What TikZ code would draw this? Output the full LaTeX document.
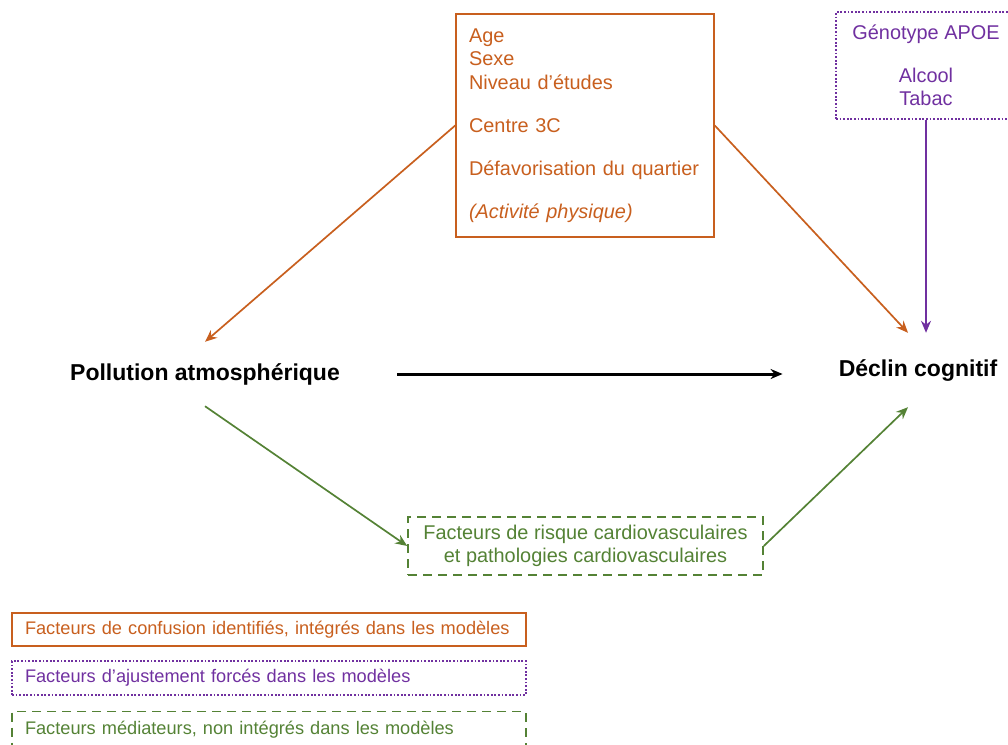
\documentclass[tikz,border=0pt]{standalone}
\usepackage{fontspec}
\setmainfont{Liberation Sans}
\usetikzlibrary{arrows.meta,calc}
\definecolor{confcol}{RGB}{200,95,30}
\definecolor{adjcol}{RGB}{112,48,160}
\definecolor{medcol}{RGB}{84,130,53}
\newcommand{\bigtxt}{\fontsize{19.9}{23.5}\selectfont}
\newcommand{\vartxt}{\fontsize{23}{27}\selectfont}
\newcommand{\legtxt}{\fontsize{18.2}{21}\selectfont}
\newcommand{\gap}{\\[19.5pt]}
\tikzset{
  mainvar/.style={font=\vartxt\bfseries, inner sep=0pt},
  confbox/.style={draw=confcol, line width=1.6pt, text=confcol, font=\bigtxt,
    align=left, text width=232pt, minimum width=258pt, inner xsep=13pt},
  adjbox/.style={draw=adjcol, line width=1.8pt, dash pattern=on 1.8pt off 1.8pt,
    text=adjcol, font=\bigtxt, align=center, minimum width=180pt},
  medbox/.style={draw=medcol, line width=1.6pt, dash pattern=on 9pt off 6pt,
    text=medcol, font=\bigtxt, align=center, minimum width=355pt, minimum height=58pt},
  legbox/.style={line width=1.6pt, font=\legtxt, align=left, text width=488pt,
    minimum width=514pt, inner xsep=13pt},
  arr/.style={line width=1.7pt, -{Stealth[length=12pt,width=10pt]}}
}

\begin{document}
\begin{tikzpicture}[x=1pt, y=-1pt]
  \useasboundingbox (0,0) rectangle (1008,744);

  \node [mainvar, minimum height=64pt] (pol) at (205,374) {Pollution atmosphérique};
  \node [mainvar, minimum height=74pt] (decl) at (918,370) {Déclin cognitif};

  \node [confbox, minimum height=223pt] (conf) at (585,125.5) {Age\\Sexe\\Niveau d’études\gap
    Centre 3C\gap Défavorisation du quartier\gap \textit{(Activité physique)}};
  \node [adjbox, minimum height=107pt] (adj) at (926,65.5) {Génotype APOE\gap Alcool\\Tabac};
  \node [medbox] (med) at (585.5,546) {Facteurs de risque cardiovasculaires\\
    et pathologies cardiovasculaires};

  % legend
  \node [legbox, draw=confcol, text=confcol, minimum height=33pt] (legconf) at (269,629.5)
    {Facteurs de confusion identifiés, intégrés dans les modèles};
  \node [legbox, draw=adjcol, text=adjcol, minimum height=34pt, line width=1.8pt,
    dash pattern=on 1.8pt off 1.8pt] (legadj) at (269,678)
    {Facteurs d’ajustement forcés dans les modèles};
  \node [legbox, draw=medcol, text=medcol, minimum height=36pt,
    dash pattern=on 9pt off 6pt] (legmed) at (269,729.5)
    {Facteurs médiateurs, non intégrés dans les modèles};

  \draw [arr, line width=3pt, shorten <=57pt, shorten >=56pt] (pol.east) -- (pol.east -| decl.west);
  \draw [arr, confcol] (conf.west) -- (pol.north);
  \draw [arr, confcol] (conf.east) -- ($(decl.north)+(-10,0)$);
  \draw [arr, adjcol] (adj.south) -- (adj.south |- decl.north);
  \draw [arr, medcol] (pol.south) -- (med.west);
  \draw [arr, medcol] (med.east) -- ($(decl.south)+(-10,0)$);
\end{tikzpicture}
\end{document}
